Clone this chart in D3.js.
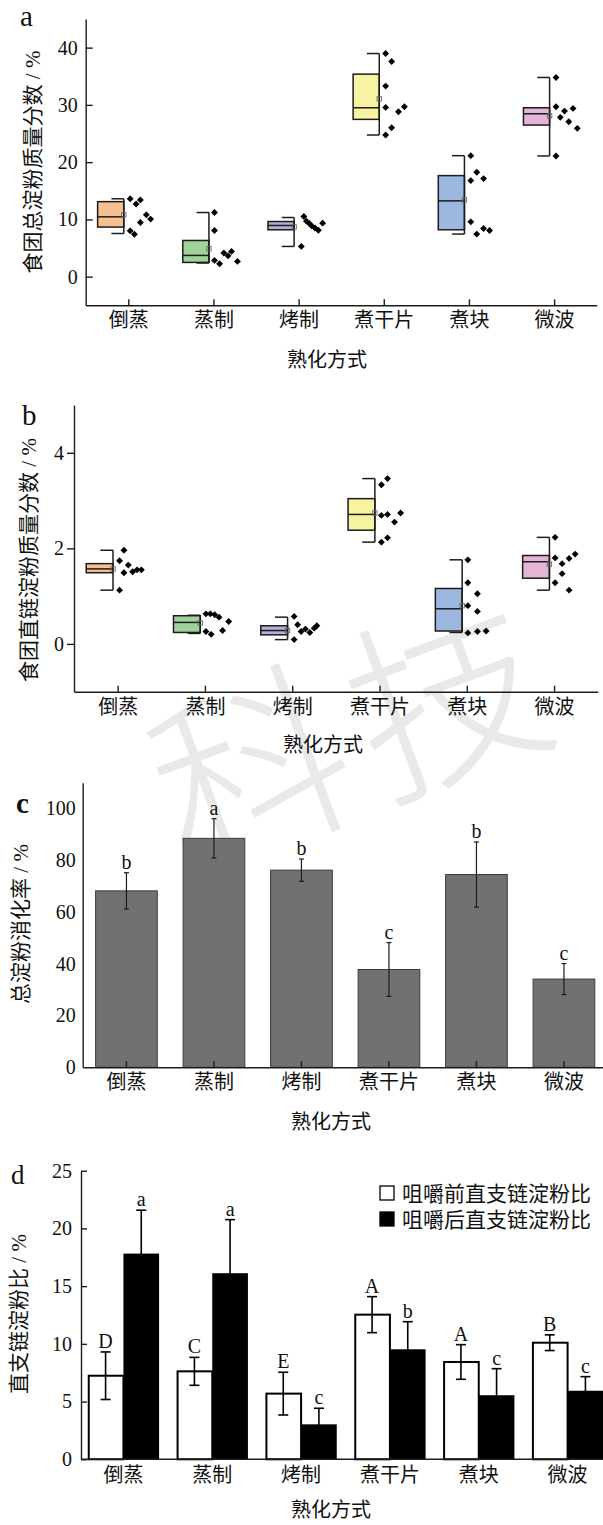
<!DOCTYPE html>
<html>
<head>
<meta charset="utf-8">
<script src="https://cdn.jsdelivr.net/npm/d3@7"></script>
<style>
  html, body { margin: 0; padding: 0; background: #fff; }
  svg { display: block; }
  text { font-family: "Liberation Serif", "Noto Sans CJK SC", serif; fill: #111; }
</style>
</head>
<body>
<svg id="fig" width="603" height="1525"></svg>
<script>
// ---------- data ----------
const methods = ["倒蒸", "蒸制", "烤制", "煮干片", "煮块", "微波"];
const xTitle = "熟化方式";

// a: total starch mass fraction in bolus (%)
const totalLow    = [7.54, 2.39, 5.28, 24.74, 7.44, 21.08];
const totalQ1     = [8.66, 2.49, 8.19, 27.47, 8.19, 26.48];
const totalMedian = [10.45, 3.71, 8.94, 29.5, 13.24, 28.45];
const totalQ3     = [13.1, 6.32, 9.63, 35.37, 17.65, 29.5];
const totalHigh   = [13.6, 11.2, 10.33, 38.97, 21.13, 34.79];
const totalMean   = [10.8, 4.88, 8.71, 31.06, 13.41, 28.1];
const totalPoints = [
  [13.6, 12.7, 13.4, 10.8, 10.05, 9.46, 8.0, 7.4],
  [11.2, 8.07, 2.84, 2.26, 4.13, 3.66, 4.41, 2.67],
  [10.5, 9.7, 9.35, 8.9, 8.5, 8.1, 9.35, 5.28],
  [38.97, 37.58, 33.28, 29.56, 28.8, 29.67, 26.0, 24.74],
  [21.13, 18.24, 16.78, 17.13, 9.58, 7.44, 8.42, 8.07],
  [34.79, 29.67, 28.92, 29.39, 27.82, 27.06, 25.9, 21.08]
];
// sideways spread of each point, as a fraction of the category step
const totalJitter = [
  [0.01, 0.08, 0.13, 0.2, 0.25, 0.13, 0.01, 0.06],
  [0.0, 0.0, 0.0, 0.06, 0.11, 0.16, 0.2, 0.27],
  [0.05, 0.08, 0.11, 0.14, 0.18, 0.22, 0.27, 0.02],
  [0.01, 0.08, 0.01, 0.01, 0.16, 0.23, 0.08, 0.01],
  [0.01, 0.08, 0.01, 0.16, 0.01, 0.08, 0.16, 0.23],
  [0.01, 0.01, 0.11, 0.21, 0.06, 0.16, 0.26, 0.01]
];
const totalTicks = [0, 10, 20, 30, 40];

// b: amylose mass fraction in bolus (%)
const amyLow    = [1.125, 0.22, 0.09, 2.13, 0.24, 1.125];
const amyQ1     = [1.49, 0.24, 0.19, 2.38, 0.27, 1.375];
const amyMedian = [1.57, 0.45, 0.28, 2.71, 0.735, 1.72];
const amyQ3     = [1.68, 0.59, 0.38, 3.04, 1.16, 1.85];
const amyHigh   = [1.96, 0.6, 0.56, 3.46, 1.76, 2.23];
const amyMean   = [1.57, 0.44, 0.28, 2.74, 0.8, 1.67];
const amyPoints = [
  [1.96, 1.74, 1.65, 1.49, 1.51, 1.55, 1.55, 1.125],
  [0.63, 0.63, 0.61, 0.56, 0.47, 0.28, 0.26, 0.2],
  [0.575, 0.4, 0.09, 0.26, 0.31, 0.24, 0.33, 0.38],
  [3.46, 3.33, 2.69, 2.71, 2.74, 2.55, 2.22, 2.13],
  [1.76, 1.28, 1.05, 0.8, 0.68, 0.23, 0.26, 0.27],
  [2.23, 1.8, 1.68, 1.79, 1.88, 1.47, 1.28, 1.125]
];
const amyJitter = [
  [0.06, 0.01, 0.11, 0.06, 0.16, 0.21, 0.26, 0.01],
  [0.0, 0.05, 0.1, 0.15, 0.26, 0.19, 0.0, 0.06],
  [0.01, 0.05, 0.01, 0.09, 0.14, 0.19, 0.24, 0.27],
  [0.08, 0.01, 0.01, 0.08, 0.23, 0.16, 0.08, 0.01],
  [0.0, 0.0, 0.11, 0.0, 0.11, 0.0, 0.11, 0.21],
  [0.0, 0.0, 0.08, 0.16, 0.23, 0.08, 0.0, 0.16]
];
const amyTicks = [0, 2, 4];

// c: total starch digestibility (%)
const digestion    = [68.2, 88.5, 76.2, 37.8, 74.5, 34.1];
const digestionSD  = [7.0, 7.6, 4.3, 10.4, 12.6, 6.0];
const digestionSig = ["b", "a", "b", "c", "b", "c"];
const digestionTicks = [0, 20, 40, 60, 80, 100];

// d: amylose/amylopectin ratio before and after chewing (%)
const ratioSeries   = ["咀嚼前直支链淀粉比", "咀嚼后直支链淀粉比"];
const ratioBefore   = [7.24, 7.62, 5.69, 12.53, 8.43, 10.1];
const ratioBeforeSD = [2.06, 1.21, 1.85, 1.56, 1.5, 0.68];
const ratioAfter    = [17.82, 16.12, 3.03, 9.53, 5.55, 5.94];
const ratioAfterSD  = [3.76, 4.64, 1.39, 2.39, 2.3, 1.22];
const sigBefore     = ["D", "C", "E", "A", "A", "B"];
const sigAfter      = ["a", "a", "c", "b", "c", "c"];
const ratioTicks = [0, 5, 10, 15, 20, 25];

// ---------- styling ----------
const boxFills = ["#f6c190", "#9fd39b", "#b9acd9", "#f7f3a2", "#9cb8e1", "#e4b5d7"];
const INK = "#1c1c1c";
const SERIF = "'Liberation Serif', 'Noto Sans CJK SC', serif";
const NUM_SIZE = 20;
const CJK_SIZE = 20;

const svg = d3.select("#fig");

// faint background watermark, one glyph at a time along a slanted line
const wmChars = ["科", "技"];
svg.append("g").selectAll("text").data(wmChars).join("text")
  .attr("transform", (d, i) => `translate(${252 + i * 196},${772 - i * 73}) rotate(-20.4)`)
  .attr("text-anchor", "middle").attr("dy", "0.36em")
  .style("font-family", "'Noto Sans CJK SC'")
  .style("font-size", "195px")
  .style("font-weight", 300)
  .style("fill", "#e9e9e9")
  .text(d => d);

function styleAxis(sel, fontSize) {
  sel.attr("font-family", null).attr("font-size", null);
  sel.selectAll("path.domain").attr("stroke", INK).attr("stroke-width", 1.4);
  sel.selectAll(".tick line").attr("stroke", INK).attr("stroke-width", 1.4);
  sel.selectAll(".tick text")
    .style("font-family", SERIF)
    .style("font-size", fontSize + "px")
    .attr("fill", "#111");
}

function panelLetter(txt, x, y, size, bold) {
  svg.append("text").attr("x", x).attr("y", y)
    .style("font-family", SERIF)
    .style("font-size", size + "px").style("font-weight", bold ? 700 : 400)
    .text(txt);
}

function yTitle(txt, cx, cy) {
  svg.append("text")
    .attr("transform", `translate(${cx},${cy}) rotate(-90)`)
    .attr("text-anchor", "middle").attr("dy", "0.36em")
    .style("font-family", SERIF)
    .style("font-size", "21px")
    .text(txt);
}

function xTitleAt(cx, cy) {
  svg.append("text").attr("x", cx).attr("y", cy).attr("dy", "0.36em")
    .attr("text-anchor", "middle")
    .style("font-family", SERIF).style("font-size", CJK_SIZE + "px")
    .text(xTitle);
}

// ---------- box + scatter panels (a, b) ----------
function boxPanel(o) {
  const g = svg.append("g");
  const x = d3.scalePoint().domain(methods).range([o.left, o.right]).padding(0.5);
  const step = x.step();
  const y = d3.scaleLinear().domain(o.domain).range([o.bottom, o.top]);
  const diamond = d3.symbol().type(d3.symbolDiamond2).size(30);

  methods.forEach((m, i) => {
    const cx = x(m);
    const wx = cx - 0.053 * step;       // whisker line sits on the box's right edge
    const bl = cx - 0.36 * step;
    const capL = wx - 0.145 * step;
    const cg = g.append("g");

    cg.append("rect")
      .attr("x", bl).attr("y", y(o.q3[i]))
      .attr("width", wx - bl).attr("height", y(o.q1[i]) - y(o.q3[i]))
      .attr("fill", boxFills[i]).attr("stroke", INK).attr("stroke-width", 1.5);
    cg.append("line")
      .attr("x1", bl).attr("x2", wx).attr("y1", y(o.med[i])).attr("y2", y(o.med[i]))
      .attr("stroke", INK).attr("stroke-width", 1.5);
    cg.append("line")
      .attr("x1", wx).attr("x2", wx).attr("y1", y(o.high[i])).attr("y2", y(o.low[i]))
      .attr("stroke", INK).attr("stroke-width", 1.5);
    [o.high[i], o.low[i]].forEach(v => {
      cg.append("line")
        .attr("x1", capL).attr("x2", wx).attr("y1", y(v)).attr("y2", y(v))
        .attr("stroke", INK).attr("stroke-width", 1.5);
    });
    cg.append("rect")
      .attr("x", wx - 2.2).attr("y", y(o.mean[i]) - 2.2)
      .attr("width", 4.4).attr("height", 4.4)
      .attr("fill", "none").attr("stroke", "#666").attr("stroke-width", 0.9);

    cg.selectAll("path.pt")
      .data(o.pts[i].map((v, k) => ({ v, j: o.jit[i][k] })))
      .join("path").attr("class", "pt")
      .attr("d", diamond)
      .attr("transform", d => `translate(${cx + 0.012 * step + d.j * step},${y(d.v)})`)
      .attr("fill", "#000");
  });

  const ya = g.append("g").attr("transform", `translate(${o.left},0)`)
    .call(d3.axisLeft(y).tickValues(o.ticks).tickFormat(d3.format("d"))
      .tickSize(o.yTick).tickPadding(o.yPad).tickSizeOuter(0));
  styleAxis(ya, NUM_SIZE);
  const xa = g.append("g").attr("transform", `translate(0,${o.bottom})`)
    .call(d3.axisBottom(x).tickSize(-6).tickPadding(8).tickSizeOuter(0));
  styleAxis(xa, CJK_SIZE);
}

boxPanel({
  left: 85.7, right: 596.7, top: 19, bottom: 305.3, domain: [-5, 45],
  ticks: totalTicks, yTick: -7, yPad: 8,
  low: totalLow, q1: totalQ1, med: totalMedian, q3: totalQ3, high: totalHigh, mean: totalMean,
  pts: totalPoints, jit: totalJitter
});
panelLetter("a", 20, 26, 29, false);
yTitle("食团总淀粉质量分数 / %", 32, 162);
xTitleAt(327, 360);

boxPanel({
  left: 74, right: 597.7, top: 405, bottom: 691.7, domain: [-1, 5],
  ticks: amyTicks, yTick: 7, yPad: 3,
  low: amyLow, q1: amyQ1, med: amyMedian, q3: amyQ3, high: amyHigh, mean: amyMean,
  pts: amyPoints, jit: amyJitter
});
panelLetter("b", 22, 425, 29, false);
yTitle("食团直链淀粉质量分数 / %", 28, 560);
xTitleAt(323, 745);

// ---------- c: single bar series ----------
(function () {
  const g = svg.append("g");
  const left = 82.7, bottom = 1067.3, top = 782.7;
  const x = d3.scaleBand().domain(methods).range([left, 607.7])
    .paddingInner(0.295).paddingOuter(0.1475);
  const y = d3.scaleLinear().domain([0, 110]).range([bottom, top]);
  const rows = methods.map((m, i) => ({ m, v: digestion[i], sd: digestionSD[i], sig: digestionSig[i] }));

  g.selectAll("rect.bar").data(rows).join("rect").attr("class", "bar")
    .attr("x", d => x(d.m)).attr("width", x.bandwidth())
    .attr("y", d => y(d.v)).attr("height", d => bottom - y(d.v))
    .attr("fill", "#707170").attr("stroke", "#3a3a3a").attr("stroke-width", 1);

  const eb = g.selectAll("g.err").data(rows).join("g").attr("class", "err")
    .attr("transform", d => `translate(${x(d.m) + x.bandwidth() / 2},0)`);
  eb.append("line").attr("y1", d => y(d.v + d.sd)).attr("y2", d => y(d.v - d.sd))
    .attr("stroke", INK).attr("stroke-width", 1.2);
  eb.append("line").attr("x1", -2.5).attr("x2", 2.5)
    .attr("y1", d => y(d.v + d.sd)).attr("y2", d => y(d.v + d.sd))
    .attr("stroke", INK).attr("stroke-width", 1.2);
  eb.append("line").attr("x1", -2.5).attr("x2", 2.5)
    .attr("y1", d => y(d.v - d.sd)).attr("y2", d => y(d.v - d.sd))
    .attr("stroke", INK).attr("stroke-width", 1.2);
  eb.append("text").attr("text-anchor", "middle")
    .attr("y", d => y(d.v + d.sd) - 4)
    .style("font-family", SERIF)
    .style("font-size", NUM_SIZE + "px").text(d => d.sig);

  const ya = g.append("g").attr("transform", `translate(${left},0)`)
    .call(d3.axisLeft(y).tickValues(digestionTicks).tickSize(0).tickPadding(7).tickSizeOuter(0));
  styleAxis(ya, NUM_SIZE);
  const xa = g.append("g").attr("transform", `translate(0,${bottom})`)
    .call(d3.axisBottom(x).tickSize(-6).tickPadding(8).tickSizeOuter(0));
  styleAxis(xa, CJK_SIZE);
})();
panelLetter("c", 16, 813, 29, true);
yTitle("总淀粉消化率 / %", 20, 924);
xTitleAt(331, 1122);

// ---------- d: grouped bars ----------
(function () {
  const g = svg.append("g");
  const left = 81, bottom = 1459.3, top = 1170.7;
  const x0 = d3.scaleBand().domain(methods).range([79, 612])
    .paddingInner(0.197).paddingOuter(0.0985);
  const x1 = d3.scaleBand().domain([0, 1]).range([0, x0.bandwidth()]);
  const y = d3.scaleLinear().domain([0, 25]).range([bottom, top]);

  const rows = [];
  methods.forEach((m, i) => {
    rows.push({ m, s: 0, v: ratioBefore[i], sd: ratioBeforeSD[i], sig: sigBefore[i] });
    rows.push({ m, s: 1, v: ratioAfter[i], sd: ratioAfterSD[i], sig: sigAfter[i] });
  });

  g.selectAll("rect.bar").data(rows).join("rect").attr("class", "bar")
    .attr("x", d => x0(d.m) + x1(d.s) + (d.s === 0 ? 1 : 0))
    .attr("width", d => x1.bandwidth() - (d.s === 0 ? 1 : 0))
    .attr("y", d => y(d.v)).attr("height", d => bottom - y(d.v))
    .attr("fill", d => d.s === 0 ? "#fff" : "#000")
    .attr("stroke", "#000").attr("stroke-width", d => d.s === 0 ? 2 : 0);

  const eb = g.selectAll("g.err").data(rows).join("g").attr("class", "err")
    .attr("transform", d => `translate(${x0(d.m) + x1(d.s) + x1.bandwidth() / 2},0)`);
  eb.append("line").attr("y1", d => y(d.v + d.sd)).attr("y2", d => y(d.v - d.sd))
    .attr("stroke", "#000").attr("stroke-width", 1.6);
  eb.append("line").attr("x1", -5).attr("x2", 5)
    .attr("y1", d => y(d.v + d.sd)).attr("y2", d => y(d.v + d.sd))
    .attr("stroke", "#000").attr("stroke-width", 1.6);
  eb.append("line").attr("x1", -5).attr("x2", 5)
    .attr("y1", d => y(d.v - d.sd)).attr("y2", d => y(d.v - d.sd))
    .attr("stroke", "#000").attr("stroke-width", 1.6);
  eb.append("text").attr("text-anchor", "middle")
    .attr("y", d => y(d.v + d.sd) - 4)
    .style("font-family", SERIF)
    .style("font-size", NUM_SIZE + "px").text(d => d.sig);

  const ya = g.append("g").attr("transform", `translate(${left},0)`)
    .call(d3.axisLeft(y).tickValues(ratioTicks).tickSize(-6).tickPadding(9).tickSizeOuter(0));
  styleAxis(ya, NUM_SIZE);
  const xa = g.append("g").attr("transform", `translate(0,${bottom})`)
    .call(d3.axisBottom(x0).tickSize(0).tickPadding(9).tickSizeOuter(0));
  styleAxis(xa, CJK_SIZE);
  xa.select("path.domain").remove();
  xa.append("line").attr("x1", left).attr("x2", 603).attr("stroke", INK).attr("stroke-width", 1.4);

  // legend
  const lg = g.append("g").attr("transform", "translate(380,1193)");
  const li = lg.selectAll("g").data(ratioSeries).join("g")
    .attr("transform", (d, i) => `translate(0,${i * 26})`);
  li.append("rect").attr("x", 0).attr("y", -7).attr("width", 14).attr("height", 14)
    .attr("fill", (d, i) => i === 0 ? "#fff" : "#000").attr("stroke", "#000").attr("stroke-width", 1.3);
  li.append("text").attr("x", 22).attr("dy", "0.36em")
    .style("font-family", SERIF)
    .style("font-size", "21px").text(d => d);
})();
panelLetter("d", 11, 1184, 27, false);
yTitle("直支链淀粉比 / %", 18, 1314);
xTitleAt(331, 1510);
</script>
</body>
</html>
